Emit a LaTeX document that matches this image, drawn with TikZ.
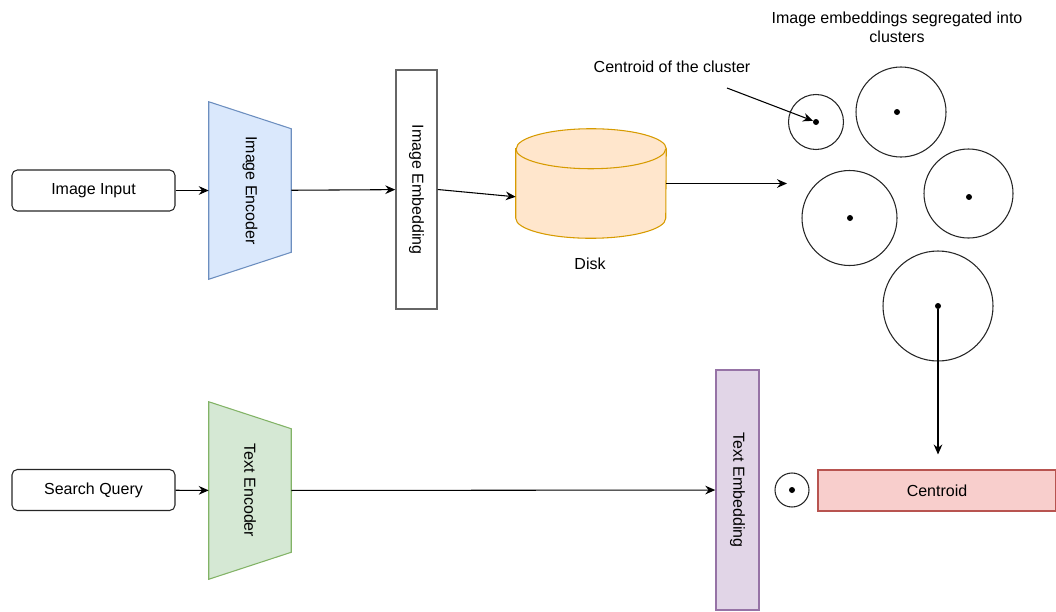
\documentclass[tikz,border=0pt]{standalone}
\usepackage{fontspec}
\setmainfont{Liberation Sans}
\usepackage{graphicx}
\usepackage{tikz}
\usetikzlibrary{shapes.geometric, arrows.meta, positioning}
\definecolor{encblue}{HTML}{DAE8FC}
\definecolor{encbluedraw}{HTML}{6C8EBF}
\definecolor{encgreen}{HTML}{D5E8D4}
\definecolor{encgreendraw}{HTML}{82B366}
\definecolor{diskfill}{HTML}{FFE6CC}
\definecolor{diskdraw}{HTML}{D79B00}
\definecolor{embpurple}{HTML}{E1D5E7}
\definecolor{embpurpledraw}{HTML}{9673A6}
\definecolor{centfill}{HTML}{F8CECC}
\definecolor{centdraw}{HTML}{B85450}
\definecolor{embgray}{HTML}{666666}
\tikzset{
  basefont/.style={font=\fontsize{12}{14}\selectfont},
  inputbox/.style={draw=black!85, thick, rounded corners=4pt, minimum width=122.25pt, minimum height=30.75pt, basefont},
  encbox/.style={minimum width=61.5pt, minimum height=132.75pt, inner sep=0pt, basefont},
  embbox/.style={line width=1.1pt, inner sep=0pt, basefont},
  diskbox/.style={minimum width=112.5pt, minimum height=81.75pt, inner sep=0pt},
  diskline/.style={draw=diskdraw, fill=diskfill, thick},
  cluster/.style={circle, draw=black!85, thick, inner sep=0pt},
  cdot/.style={circle, fill=black, inner sep=0pt, minimum size=4.5pt},
  arr/.style={-{Stealth[length=7.5pt, width=6.5pt, inset=2.5pt]}, thick},
  plainlabel/.style={basefont, inner sep=1pt, align=center}
}
% trapezium drawn from the corners of an encoder box
\newcommand{\encoutline}[3]{%
  \draw[draw=#2, fill=#3, thick] (#1.north west) -- ([yshift=-20.25pt]#1.north east)
    -- ([yshift=20.25pt]#1.south east) -- (#1.south west) -- cycle;}

\begin{document}
\begin{tikzpicture}[x=0.75pt, y=-0.75pt]
  \useasboundingbox (0,0) rectangle (1056,611);

  % image branch
  \node[inputbox] at (93.5,190.5) (iminput) {Image Input};
  \node[encbox] at (250,190.5) (imgenc) {};
  \encoutline{imgenc}{encbluedraw}{encblue}
  \node[basefont] at (imgenc) {\rotatebox{-90}{Image Encoder}};
  \node[embbox, draw=embgray, minimum width=30.75pt, minimum height=179.25pt] at (416.5,189.5) (imgemb)
    {\rotatebox{-90}{Image Embedding}};

  % disk drawn round an empty box
  \node[diskbox] at (591,183.5) (disk) {};
  \draw[diskline] ([yshift=-15pt]disk.north west) -- ([yshift=15pt]disk.south west)
    arc[start angle=180, end angle=360, x radius=56.25pt, y radius=15pt]
    -- ([yshift=-15pt]disk.north east)
    arc[start angle=0, end angle=180, x radius=56.25pt, y radius=15pt] -- cycle;
  \draw[diskline, fill=none] ([yshift=-15pt]disk.north west)
    arc[start angle=180, end angle=360, x radius=56.25pt, y radius=15pt];
  \node[plainlabel] at (590,264) (disklabel) {Disk};

  \draw[arr] (iminput) -- (imgenc);
  \draw[arr] (imgenc) -- (imgemb);
  \draw[arr] (imgemb.east) -- ([yshift=-10pt]disk.west);
  \coordinate (clin) at (787,183.5);
  \draw[arr] (disk.east) -- (clin);

  % clusters
  \node[cluster, minimum size=41.25pt] at (816,122) (c1) {};
  \node[cluster, minimum size=67.5pt] at (901,112) (c2) {};
  \node[cluster, minimum size=71.25pt] at (849.5,218) (c3) {};
  \node[cluster, minimum size=66.75pt] at (968.5,193.5) (c4) {};
  \node[cluster, minimum size=82.5pt] at (938,306) (c5) {};
  \node[cdot] at (816,122) (d1) {};
  \node[cdot] at (897,112) (d2) {};
  \node[cdot] at (850,218) (d3) {};
  \node[cdot] at (969,197) (d4) {};
  \node[cdot] at (938,306) (d5) {};

  \node[plainlabel] at (897,27) (cltitle) {Image embeddings segregated into\\clusters};
  \node[plainlabel] at (672,67) (centlabel) {Centroid of the cluster};
  \coordinate (centtail) at (727,88);
  \draw[arr] (centtail) -- (d1);

  % text branch
  \node[inputbox] at (93.5,490) (squery) {Search Query};
  \node[encbox] at (250,490.5) (txtenc) {};
  \encoutline{txtenc}{encgreendraw}{encgreen}
  \node[basefont] at (txtenc) {\rotatebox{-90}{Text Encoder}};
  \node[embbox, draw=embpurpledraw, fill=embpurple, minimum width=32.25pt, minimum height=180pt] at (737.5,490) (txtemb)
    {\rotatebox{-90}{Text Embedding}};
  \node[cluster, minimum size=25.5pt] at (792,490) (odot) {};
  \node[cdot] at (792,490) (odotc) {};
  \node[draw=centdraw, fill=centfill, thick, minimum width=178.5pt, minimum height=30.75pt, basefont] at (937,490.5) (centroid) {Centroid};

  \draw[arr] (squery) -- (txtenc);
  \draw[arr] (txtenc) -- (txtemb);
  \draw[arr, shorten >=11.25pt] (d5) -- (d5 |- centroid.north);
\end{tikzpicture}
\end{document}
